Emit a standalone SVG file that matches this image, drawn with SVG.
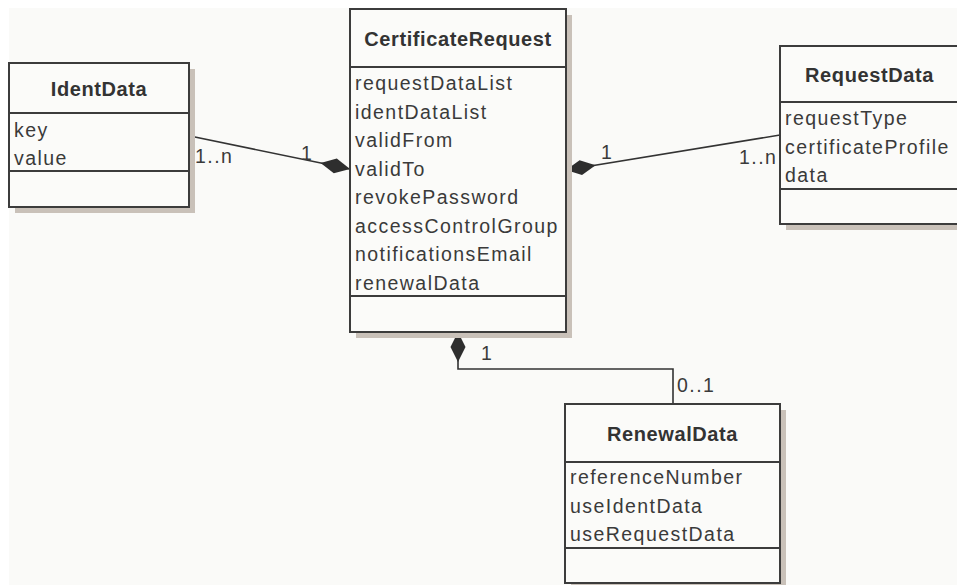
<svg xmlns="http://www.w3.org/2000/svg" width="957" height="585" viewBox="0 0 957 585">
  <style>
    .shadow { fill: #c9c1b9; }
    .body { fill: #fbfbf9; stroke: #3c3c3c; stroke-width: 2; }
    .sep { stroke: #3c3c3c; stroke-width: 2; }
    .title { font-family: "Liberation Sans", Arial, sans-serif; font-weight: bold; font-size: 20px; letter-spacing: 0.6px; text-anchor: middle; fill: #333333; }
    .attr { font-family: "Liberation Sans", Arial, sans-serif; font-size: 19.5px; letter-spacing: 1.45px; fill: #3a3a3a; }
    .conn { stroke: #333333; stroke-width: 1.6; fill: none; marker-start: url(#diamond); }
  </style>
  <defs>
    <!-- filled composition diamond, tip sits on the owning class -->
    <marker id="diamond" viewBox="0 0 30 18" refX="0" refY="9" markerWidth="30" markerHeight="18" markerUnits="userSpaceOnUse" orient="auto">
      <path d="M0,9 L15,1.5 L30,9 L15,16.5 Z" fill="#2e2e2e"/>
    </marker>
  </defs>

  <rect x="0" y="0" width="957" height="585" fill="#ffffff"/>
  <rect x="9" y="8" width="948" height="577" fill="#fafaf8"/>

  <!-- connectors -->
  <g id="connectors">
    <path class="conn" d="M350,169 L190,136"/>
    <path class="conn" d="M566,170 L780,135"/>
    <path class="conn" d="M458,332 L458,369 L673,369 L673,404"/>
    <text class="attr" x="195" y="163">1..n</text>
    <text class="attr" x="301" y="160">1</text>
    <text class="attr" x="601" y="159">1</text>
    <text class="attr" x="739" y="164">1..n</text>
    <text class="attr" x="481" y="360">1</text>
    <text class="attr" x="677" y="392">0..1</text>
  </g>

  <!-- IdentData -->
  <g id="IdentData">
    <rect class="shadow" x="15" y="69" width="180" height="144"/>
    <rect class="body" x="9" y="63" width="180" height="144"/>
    <line class="sep" x1="9" y1="113" x2="189" y2="113"/>
    <line class="sep" x1="9" y1="171" x2="189" y2="171"/>
    <text class="title" x="99" y="96">IdentData</text>
    <text class="attr" x="14" y="137">key</text>
    <text class="attr" x="14" y="165">value</text>
  </g>

  <!-- CertificateRequest -->
  <g id="CertificateRequest">
    <rect class="shadow" x="356" y="15" width="216" height="323"/>
    <rect class="body" x="350" y="9" width="216" height="323"/>
    <line class="sep" x1="350" y1="67" x2="566" y2="67"/>
    <line class="sep" x1="350" y1="296" x2="566" y2="296"/>
    <text class="title" x="458" y="46">CertificateRequest</text>
    <text class="attr" x="355" y="90">requestDataList</text>
    <text class="attr" x="355" y="118.5">identDataList</text>
    <text class="attr" x="355" y="147">validFrom</text>
    <text class="attr" x="355" y="175.5">validTo</text>
    <text class="attr" x="355" y="204">revokePassword</text>
    <text class="attr" x="355" y="232.5">accessControlGroup</text>
    <text class="attr" x="355" y="261">notificationsEmail</text>
    <text class="attr" x="355" y="289.5">renewalData</text>
  </g>

  <!-- RequestData -->
  <g id="RequestData">
    <rect class="shadow" x="786" y="52" width="179" height="178"/>
    <rect class="body" x="780" y="46" width="179" height="178"/>
    <line class="sep" x1="780" y1="102" x2="959" y2="102"/>
    <line class="sep" x1="780" y1="189" x2="959" y2="189"/>
    <text class="title" x="869.5" y="82">RequestData</text>
    <text class="attr" x="785" y="125">requestType</text>
    <text class="attr" x="785" y="153.5">certificateProfile</text>
    <text class="attr" x="785" y="182">data</text>
  </g>

  <!-- RenewalData -->
  <g id="RenewalData">
    <rect class="shadow" x="571" y="410" width="215" height="179"/>
    <rect class="body" x="565" y="404" width="215" height="179"/>
    <line class="sep" x1="565" y1="462" x2="780" y2="462"/>
    <line class="sep" x1="565" y1="548" x2="780" y2="548"/>
    <text class="title" x="672.5" y="441">RenewalData</text>
    <text class="attr" x="570" y="484">referenceNumber</text>
    <text class="attr" x="570" y="512.5">useIdentData</text>
    <text class="attr" x="570" y="541">useRequestData</text>
  </g>
</svg>
